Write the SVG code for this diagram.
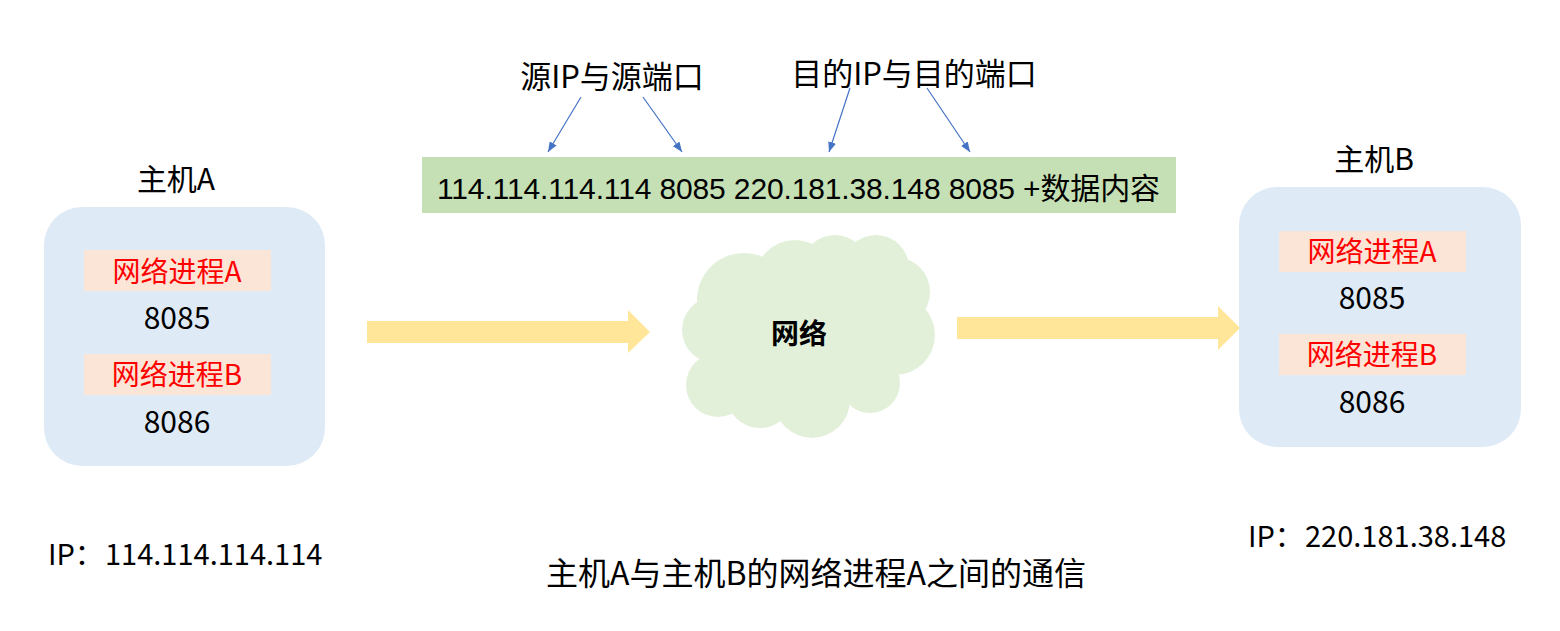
<svg xmlns="http://www.w3.org/2000/svg" width="1560" height="631" viewBox="0 0 1560 631">
<defs>
<style>
.t{font-family:"Noto Sans CJK SC","Liberation Sans",sans-serif;fill:#000}
.host{fill:#DEEAF6}
.proc{fill:#FBE5D6}
.red{font-family:"Noto Sans CJK SC","Liberation Sans",sans-serif;fill:#FF0000;font-size:28px}
.port{font-family:"Noto Sans CJK SC","Liberation Sans",sans-serif;fill:#000;font-size:30px}
.blk{fill:#FFE699}
.ptr{stroke:#4472C4;stroke-width:1.2;fill:none}
.cloud{fill:#E2F0D9}
</style>
<marker id="ah" viewBox="0 0 10 8" refX="10" refY="4" markerWidth="10" markerHeight="8" markerUnits="userSpaceOnUse" orient="auto">
<path d="M0,0 L10,4 L0,8 z" fill="#4472C4"/>
</marker>
</defs>
<rect width="1560" height="631" fill="#FFFFFF"/>

<g id="host-a">
<text class="t" x="176" y="190" font-size="30" text-anchor="middle">主机A</text>
<rect class="host" x="44" y="207" width="281" height="259" rx="38" ry="38"/>
<rect class="proc" x="84" y="250" width="187" height="41"/>
<text class="red" x="177" y="282" text-anchor="middle">网络进程A</text>
<text class="port" x="177" y="329" text-anchor="middle">8085</text>
<rect class="proc" x="84" y="354" width="187" height="41"/>
<text class="red" x="177" y="385" text-anchor="middle">网络进程B</text>
<text class="port" x="177" y="433" text-anchor="middle">8086</text>
</g>

<g id="ip-a">
<text class="t" font-size="29" y="565"><tspan x="48">IP：</tspan><tspan x="105">114.114.114.114</tspan></text>
</g>

<g id="host-b">
<text class="t" x="1374" y="170" font-size="30" text-anchor="middle">主机B</text>
<rect class="host" x="1239" y="187" width="282" height="260" rx="38" ry="38"/>
<rect class="proc" x="1279" y="231" width="187" height="41"/>
<text class="red" x="1372" y="262" text-anchor="middle">网络进程A</text>
<text class="port" x="1372" y="309" text-anchor="middle">8085</text>
<rect class="proc" x="1279" y="334" width="187" height="41"/>
<text class="red" x="1372" y="365" text-anchor="middle">网络进程B</text>
<text class="port" x="1372" y="413" text-anchor="middle">8086</text>
</g>

<g id="ip-b">
<text class="t" font-size="29" y="547"><tspan x="1248">IP：</tspan><tspan x="1305">220.181.38.148</tspan></text>
</g>

<g id="packet">
<rect x="422" y="157" width="754" height="56" fill="#C5E0B4"/>
<text x="437" y="199" font-size="30" textLength="723" style="font-family:'Liberation Sans','Noto Sans CJK SC',sans-serif;fill:#000">114.114.114.114 8085 220.181.38.148 8085 +数据内容</text>
</g>

<g id="label-src">
<text class="t" x="612" y="88" font-size="31" text-anchor="middle">源IP与源端口</text>
</g>
<g id="label-dst">
<text class="t" x="914" y="85" font-size="31" text-anchor="middle">目的IP与目的端口</text>
</g>

<g id="cloud">
<g class="cloud">
<ellipse cx="808" cy="335" rx="95" ry="72"/>
<circle cx="715" cy="330" r="33"/>
<circle cx="718" cy="385" r="32"/>
<circle cx="760" cy="394" r="34"/>
<circle cx="812" cy="400" r="38"/>
<circle cx="870" cy="383" r="30"/>
<circle cx="895" cy="335" r="40"/>
<circle cx="895" cy="292" r="35"/>
<circle cx="876" cy="268" r="33"/>
<circle cx="835" cy="268" r="33"/>
<circle cx="795" cy="280" r="40"/>
<circle cx="744" cy="300" r="47"/>
</g>
<text class="t" x="799" y="344" font-size="28" font-weight="bold" text-anchor="middle">网络</text>
</g>

<g id="connectors">
<line class="ptr" x1="581" y1="97" x2="548" y2="152" marker-end="url(#ah)"/>
<line class="ptr" x1="643" y1="97" x2="682" y2="152" marker-end="url(#ah)"/>
<line class="ptr" x1="850" y1="88" x2="829" y2="152" marker-end="url(#ah)"/>
<line class="ptr" x1="927" y1="88" x2="970" y2="152" marker-end="url(#ah)"/>
<polygon class="blk" points="367,321 628,321 628,310 650,332 628,353 628,343 367,343"/>
<polygon class="blk" points="957,317 1218,317 1218,306 1240,328 1218,350 1218,339 957,339"/>
</g>

<g id="caption">
<text class="t" x="816" y="585" font-size="32" text-anchor="middle">主机A与主机B的网络进程A之间的通信</text>
</g>
</svg>
